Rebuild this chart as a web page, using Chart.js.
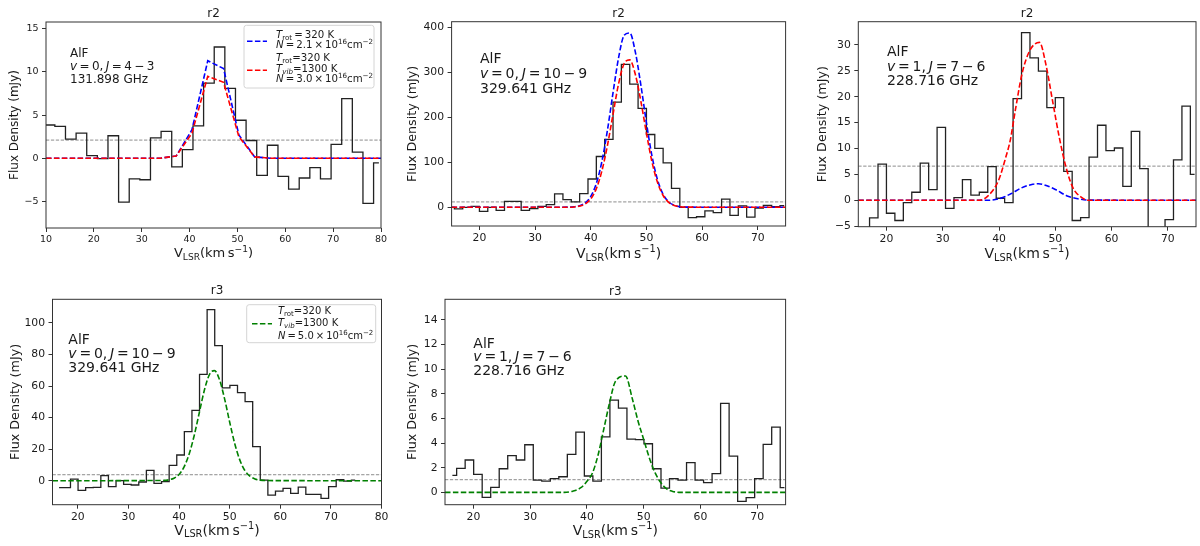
<!DOCTYPE html>
<html>
<head>
<meta charset="utf-8">
<title>AlF spectra r2 / r3</title>
<script src="https://cdn.jsdelivr.net/npm/chart.js@4.4.1/dist/chart.umd.min.js"></script>
<style>
  html, body { margin: 0; padding: 0; background: #fff; }
  body { position: relative; width: 1200px; height: 546px; overflow: hidden; }
  canvas { position: absolute; }
</style>
</head>
<body>
<canvas id="p1" width="400" height="273" style="left:0px;top:0px"></canvas>
<canvas id="p2" width="400" height="273" style="left:400px;top:0px"></canvas>
<canvas id="p3" width="400" height="273" style="left:800px;top:0px"></canvas>
<canvas id="p4" width="400" height="273" style="left:0px;top:273px"></canvas>
<canvas id="p5" width="400" height="273" style="left:400px;top:273px"></canvas>
<script>
// ---- r2, AlF v=0 J=4-3 (131.898 GHz) ----
const p1Vel = [8.52, 10.74, 12.96, 15.18, 17.40, 19.62, 21.84, 24.06, 26.28, 28.50, 30.72, 32.94, 35.16, 37.38, 39.60, 41.82,
  44.04, 46.26, 48.48, 50.70, 52.92, 55.14, 57.36, 59.58, 61.80, 64.02, 66.24, 68.46, 70.68, 72.90, 75.12, 77.34, 79.56];
const p1Flux = [3.85, 3.85, 3.7, 2.2, 2.9, 0.3, -0.05, 2.6, -5.1, -2.4, -2.5, 2.35, 3.1, -1.0, 1.0, 3.75,
  8.7, 12.9, 8.1, 4.4, 2.05, -2.0, 1.5, -2.1, -3.6, -2.3, -1.1, -2.4, 1.6, 6.9, 0.7, -5.25, -0.55];
const p1ModelVel = [10, 33.9, 37.2, 40.5, 43.8, 47.1, 50.3, 53.6, 56.9, 80];
const p1Blue = [0, 0, 0.25, 3.3, 11.3, 10.4, 2.7, 0.15, 0, 0];
const p1Red = [0, 0, 0.25, 2.9, 9.5, 8.8, 2.5, 0.15, 0, 0];
const p1Rms = 2.1;
const p1XTicks = [10, 20, 30, 40, 50, 60, 70, 80];
const p1YTicks = [-5, 0, 5, 10, 15];

// ---- r2, AlF v=0 J=10-9 (329.641 GHz) ----
const p2Vel = [14.75, 16.25, 17.75, 19.25, 20.75, 22.25, 23.75, 25.25, 26.75, 28.25, 29.75, 31.25, 32.75, 34.25,
  35.75, 37.25, 38.75, 40.25, 41.75, 43.25, 44.75, 46.25, 47.75, 49.25, 50.75, 52.25, 53.75, 55.25, 56.75, 58.25,
  59.75, 61.25, 62.75, 64.25, 65.75, 67.25, 68.75, 70.25, 71.75, 73.25, 74.75];
const p2Flux = [0, -3.7, 0, 2.2, -8.9, 0, -6.7, 13.4, 13.4, -6.7, -2.9, 2.2, 6, 29.7,
  17.1, 11.9, 30.4, 63, 113, 151, 234, 318, 274, 220, 162, 131, 99, 42, 0, -23,
  -21, -8, -12, 18, -18, 3, -22, -2, 4.5, 1.5, 3.7];
const p2ModelVel = [15, 36, 37, 38, 39, 40, 41, 42, 43, 44, 45, 46, 47, 48, 49, 50, 51, 52, 53, 54, 55, 56, 57, 75];
const p2Blue = [0, 0.3, 1.1, 3.5, 9.9, 24.3, 53, 102, 172, 255, 333, 383, 388, 346, 272, 188, 114, 61, 28.8, 12, 4.4, 1.4, 0.4, 0];
const p2Red = [0, 0.2, 0.8, 2.7, 7.5, 18.9, 41.6, 81, 138, 207, 275, 320, 328, 296, 236, 165, 101, 55, 26.3, 11.1, 4.1, 1.3, 0.4, 0];
const p2Rms = 12;
const p2XTicks = [20, 30, 40, 50, 60, 70];
const p2YTicks = [0, 100, 200, 300, 400];

// ---- r2, AlF v=1 J=7-6 (228.716 GHz) ----
const p3Vel = [16.25, 17.75, 19.25, 20.75, 22.25, 23.75, 25.25, 26.75, 28.25, 29.75, 31.25, 32.75, 34.25, 35.75,
  37.25, 38.75, 40.25, 41.75, 43.25, 44.75, 46.25, 47.75, 49.25, 50.75, 52.25, 53.75, 55.25, 56.75, 58.25, 59.75,
  61.25, 62.75, 64.25, 65.75, 67.25, 68.75, 70.25, 71.75, 73.25, 74.75];
const p3Flux = [-8, -3.4, 7.0, -2.5, -3.9, -0.45, 1.55, 7.2, 2.05, 14.1, -1.55, 0.5, 4.0, 1.0,
  1.55, 6.5, 0.4, -0.45, 19.65, 32.4, 27.5, 24.95, 17.9, 19.85, 5.6, -3.9, -3.35, 8.35, 14.5, 9.6,
  10.1, 2.7, 13.3, 6.1, -8, -8, -3.75, 7.8, 18.2, 5.0];
const p3RedVel = [15, 36.5, 38, 39.9, 41.2, 42.0, 42.9, 44.1, 45.5, 47.2, 48.3, 49.5, 50.7, 51.9, 53.1, 54.6, 56, 75];
const p3Red = [0, 0, 0.8, 3.8, 8.3, 11.6, 17.4, 24.5, 29, 30.5, 26.4, 19.3, 12.2, 6.4, 2.5, 0.6, 0, 0];
const p3BlueVel = [15, 38, 40, 42, 44, 46, 47, 48, 50, 52, 54, 56, 75];
const p3Blue = [0, 0, 0.3, 1.2, 2.4, 3.1, 3.2, 3.0, 2.1, 0.9, 0.3, 0.05, 0];
const p3Rms = 6.6;
const p3XTicks = [20, 30, 40, 50, 60, 70];
const p3YTicks = [-5, 0, 5, 10, 15, 20, 25, 30];

// ---- r3, AlF v=0 J=10-9 (329.641 GHz) ----
const p4Vel = [16.3, 17.8, 19.3, 20.8, 22.3, 23.8, 25.3, 26.8, 28.3, 29.8, 31.3, 32.8, 34.3, 35.8,
  37.3, 38.8, 40.3, 41.8, 43.3, 44.8, 46.3, 47.8, 49.3, 50.8, 52.3, 53.8, 55.3, 56.8, 58.3, 59.8,
  61.3, 62.8, 64.3, 65.8, 67.3, 68.8, 70.3, 71.8, 73.3, 74.8];
const p4Flux = [-4.4, -4.4, 1.0, -6.1, -4.4, -4.2, 3.2, -3.8, 0, -2.3, -2.7, -0.8, 6.6, -1.7,
  -0.6, 9.7, 16.3, 31.1, 44.6, 67.4, 108.5, 85.6, 58.8, 60.5, 55.8, 50.1, 21.6, 0.4, -9.1, -6.6,
  -4.9, -8.0, -4.0, -8.7, -8.7, -11.2, -3.8, 0.6, -0.2, 0.4];
const p4ModelVel = [15, 37, 38, 39, 40, 41, 42, 43, 44, 45, 46, 47, 48, 49, 50, 51, 52, 53, 54, 55, 56, 57, 80];
const p4Green = [0, 0.19, 0.6, 1.6, 4.0, 8.8, 16.9, 28.7, 43.1, 57.3, 67.3, 69.8, 64, 51.9, 37.2, 23.6, 13.2, 6.5, 2.9, 1.1, 0.4, 0.1, 0];
const p4Rms = 3.8;
const p4XTicks = [20, 30, 40, 50, 60, 70, 80];
const p4YTicks = [0, 20, 40, 60, 80, 100];

// ---- r3, AlF v=1 J=7-6 (228.716 GHz) ----
const p5Vel = [16.3, 17.8, 19.3, 20.8, 22.3, 23.8, 25.3, 26.8, 28.3, 29.8, 31.3, 32.8, 34.3, 35.8,
  37.3, 38.8, 40.3, 41.8, 43.3, 44.8, 46.3, 47.8, 49.3, 50.8, 52.3, 53.8, 55.3, 56.8, 58.3, 59.8,
  61.3, 62.8, 64.3, 65.8, 67.3, 68.8, 70.3, 71.8, 73.3, 74.8];
const p5Flux = [1.38, 1.95, 2.63, 1.46, -0.41, 0.41, 1.92, 2.98, 2.63, 3.87, 1.0, 0.92, 1.11, 1.27,
  3.09, 4.9, 1.33, 0.92, 4.5, 7.5, 6.85, 4.33, 4.28, 3.95, 1.92, 0.35, 1.11, 1.0, 2.41, 1.0,
  0.79, 1.52, 7.23, 2.95, -0.73, -0.43, 1.11, 3.9, 5.3, 0.38];
const p5ModelVel = [15, 36, 37.5, 39, 40, 41, 42, 43, 44, 45, 46.8, 48, 49, 50, 51, 52, 53, 54, 55, 56.5, 75];
const p5Green = [0, 0, 0.1, 0.4, 0.9, 1.6, 3.1, 5.2, 7.3, 9.0, 9.45, 7.6, 5.8, 4.3, 2.8, 1.6, 0.8, 0.3, 0.1, 0, 0];
const p5Rms = 1.03;
const p5XTicks = [20, 30, 40, 50, 60, 70];
const p5YTicks = [0, 2, 4, 6, 8, 10, 12, 14];

// ---- drawing helpers ----
const FAMILY = '"DejaVu Sans", "Liberation Sans", sans-serif';
const INK = '#1a1a1a';
const MODEL_DASH = [5.5, 2.4];
const BLUE = '#0000ff', RED = '#ff0000', GREEN = '#008000';

function setFont(ctx, size, italic) {
  ctx.font = (italic ? 'italic ' : '') + size + 'px ' + FAMILY;
}

// parts: [text, flags] with flags i=italic, b=subscript, p=superscript
function drawRich(ctx, x, y, parts, size, align) {
  const sizeOf = f => (f.includes('b') || f.includes('p')) ? size * 0.7 : size;
  let w = 0;
  parts.forEach(([t, f = '']) => { setFont(ctx, sizeOf(f), f.includes('i')); w += ctx.measureText(t).width; });
  let cx = align === 'center' ? x - w / 2 : x;
  ctx.textAlign = 'left';
  ctx.textBaseline = 'alphabetic';
  parts.forEach(([t, f = '']) => {
    setFont(ctx, sizeOf(f), f.includes('i'));
    const dy = f.includes('b') ? size * 0.2 : f.includes('p') ? -size * 0.4 : 0;
    ctx.fillText(t, cx, y + dy);
    cx += ctx.measureText(t).width;
  });
}

const XLABEL = [['V'], ['LSR', 'b'], ['(km\u2009s'], ['\u22121', 'p'], [')']];
const EQ = '\u2009=\u2009';

function noteLines(v, j, freq) {
  return [[['AlF']], [['v', 'i'], [EQ + v + ',\u2009'], ['J', 'i'], [EQ + j]], [[freq]]];
}

function drawLegend(ctx, lg, ox, oy) {
  const [x0, y0, x1, y1] = lg.box;
  ctx.save();
  ctx.beginPath();
  if (ctx.roundRect) ctx.roundRect(x0 - ox, y0 - oy, x1 - x0, y1 - y0, 2.5);
  else ctx.rect(x0 - ox, y0 - oy, x1 - x0, y1 - y0);
  ctx.fillStyle = 'rgba(255,255,255,0.85)';
  ctx.fill();
  ctx.strokeStyle = '#d4d4d4';
  ctx.lineWidth = 1;
  ctx.stroke();
  lg.entries.forEach(e => {
    ctx.beginPath();
    ctx.setLineDash(MODEL_DASH);
    ctx.strokeStyle = e.color;
    ctx.lineWidth = 1.6;
    ctx.moveTo(lg.lineX[0] - ox, e.lineY - oy);
    ctx.lineTo(lg.lineX[1] - ox, e.lineY - oy);
    ctx.stroke();
    ctx.setLineDash([]);
    ctx.fillStyle = INK;
    e.lines.forEach(([ly, parts]) => drawRich(ctx, lg.textX - ox, ly - oy, parts, lg.size));
  });
  ctx.restore();
}

function decorations(p) {
  return {
    id: 'deco',
    afterDraw(chart) {
      const ctx = chart.ctx, a = chart.chartArea;
      const ox = p.box[0], oy = p.box[1];
      const mid = (a.left + a.right) / 2;
      ctx.save();
      ctx.strokeStyle = '#333';
      ctx.lineWidth = 1;
      ctx.strokeRect(a.left, a.top, a.right - a.left, a.bottom - a.top);
      ctx.fillStyle = INK;
      drawRich(ctx, mid, p.titleY - oy, [[p.title]], 12, 'center');
      drawRich(ctx, mid, p.xlabY - oy, XLABEL, p.xlabSize, 'center');
      ctx.save();
      ctx.translate(p.ylabX - ox, (a.top + a.bottom) / 2);
      ctx.rotate(-Math.PI / 2);
      drawRich(ctx, 0, p.ylabSize * 0.36, [['Flux Density (mJy)']], p.ylabSize, 'center');
      ctx.restore();
      p.note.lines.forEach((parts, i) => drawRich(ctx, p.note.x - ox, p.note.ys[i] - oy, parts, p.note.size));
      if (p.legend) drawLegend(ctx, p.legend, ox, oy);
      ctx.restore();
    }
  };
}

const pts = (xs, ys) => xs.map((x, i) => ({ x: x, y: ys[i] }));
const histo = (xs, ys) => ({ data: pts(xs, ys), borderColor: '#222', borderWidth: 1.3, stepped: 'middle', pointRadius: 0, order: 3 });
const model = (xs, ys, color, smooth, order) => ({
  data: pts(xs, ys), borderColor: color, borderWidth: 1.6, borderDash: MODEL_DASH, pointRadius: 0,
  cubicInterpolationMode: smooth ? 'monotone' : 'default', tension: 0, order: order
});
const rmsLine = (x0, x1, v) => ({ data: [{ x: x0, y: v }, { x: x1, y: v }], borderColor: '#8c8c8c', borderWidth: 1, borderDash: [3.3, 1.6], pointRadius: 0, order: 4 });

const fmtTick = v => (v < 0 ? '\u2212' + Math.abs(v) : String(v));

function axis(min, max, ticks, size, pad, fit) {
  return {
    type: 'linear', min: min, max: max,
    afterBuildTicks: s => { s.ticks = ticks.map(v => ({ value: v })); },
    afterFit: fit,
    ticks: { autoSkip: false, maxRotation: 0, color: INK, padding: pad, font: { family: FAMILY, size: size }, callback: fmtTick },
    grid: { display: true, drawOnChartArea: false, drawTicks: true, tickLength: 4, tickColor: '#333', color: '#333', lineWidth: 1 },
    border: { display: false }
  };
}

function panel(p) {
  const [bx, by, bw, bh] = p.box;
  const [pl, pt, pr, pb] = p.plot;
  new Chart(document.getElementById(p.id), {
    type: 'line',
    data: { datasets: p.datasets },
    options: {
      responsive: false,
      animation: false,
      layout: { padding: { left: 0, top: pt - by, right: bx + bw - pr, bottom: 0 } },
      plugins: { legend: { display: false }, tooltip: { enabled: false } },
      scales: {
        x: axis(p.xr[0], p.xr[1], p.xt, p.tick, 2, s => { s.height = by + bh - pb; }),
        y: axis(p.yr[0], p.yr[1], p.yt, p.tick, 3.5, s => { s.width = pl - bx; })
      }
    },
    plugins: [decorations(p)]
  });
}

// ---- panels ----
panel({
  id: 'p1', box: [0, 0, 400, 273], plot: [46, 22, 381, 228], xr: [10, 80], yr: [-8.1, 15.8],
  xt: p1XTicks, yt: p1YTicks, tick: 9.5,
  title: 'r2', titleY: 16.7, xlabY: 257, xlabSize: 13, ylabX: 13.5, ylabSize: 12,
  note: { x: 70, ys: [57, 70, 82.5], size: 12, lines: noteLines('0', '4\u2009\u2212\u20093', '131.898 GHz') },
  legend: {
    box: [244, 25.3, 374, 88], lineX: [247, 267], textX: 276, size: 10.2,
    entries: [
      { color: BLUE, lineY: 41.3, lines: [
        [37.7, [['T', 'i'], ['rot', 'b'], [EQ + '320 K']]],
        [48.3, [['N', 'i'], [EQ + '2.1\u2009\u00d7\u200910'], ['16', 'p'], ['cm'], ['\u22122', 'p']]]] },
      { color: RED, lineY: 70.3, lines: [
        [61, [['T', 'i'], ['rot', 'b'], ['=320 K']]],
        [71.7, [['T', 'i'], ['vib', 'bi'], ['=1300 K']]],
        [82.3, [['N', 'i'], [EQ + '3.0\u2009\u00d7\u200910'], ['16', 'p'], ['cm'], ['\u22122', 'p']]]] }
    ]
  },
  datasets: [
    model(p1ModelVel, p1Red, RED, false, 0),
    model(p1ModelVel, p1Blue, BLUE, false, 1),
    histo(p1Vel, p1Flux),
    rmsLine(10, 80, p1Rms)
  ]
});

panel({
  id: 'p2', box: [400, 0, 400, 273], plot: [451.6, 21.7, 785.6, 226], xr: [15, 75], yr: [-41.6, 413],
  xt: p2XTicks, yt: p2YTicks, tick: 10.8,
  title: 'r2', titleY: 16.7, xlabY: 258, xlabSize: 14, ylabX: 411.7, ylabSize: 12.7,
  note: { x: 480, ys: [62.7, 77.5, 92.5], size: 14, lines: noteLines('0', '10\u2009\u2212\u20099', '329.641 GHz') },
  datasets: [
    model(p2ModelVel, p2Red, RED, true, 0),
    model(p2ModelVel, p2Blue, BLUE, true, 1),
    histo(p2Vel, p2Flux),
    rmsLine(15, 75, p2Rms)
  ]
});

panel({
  id: 'p3', box: [800, 0, 400, 273], plot: [858.3, 21.7, 1196, 226.7], xr: [15, 75], yr: [-5.1, 34.5],
  xt: p3XTicks, yt: p3YTicks, tick: 10.8,
  title: 'r2', titleY: 16.7, xlabY: 258, xlabSize: 14, ylabX: 821.7, ylabSize: 12.7,
  note: { x: 887, ys: [55.7, 70.5, 85], size: 14, lines: noteLines('1', '7\u2009\u2212\u20096', '228.716 GHz') },
  datasets: [
    model(p3RedVel, p3Red, RED, true, 0),
    model(p3BlueVel, p3Blue, BLUE, true, 1),
    histo(p3Vel, p3Flux),
    rmsLine(15, 75, p3Rms)
  ]
});

panel({
  id: 'p4', box: [0, 273, 400, 273], plot: [52.5, 299.3, 381.5, 504.7], xr: [15, 80], yr: [-15.2, 115],
  xt: p4XTicks, yt: p4YTicks, tick: 10.8,
  title: 'r3', titleY: 294.3, xlabY: 534.5, xlabSize: 14, ylabX: 14, ylabSize: 12.7,
  note: { x: 68.3, ys: [343.5, 358, 372], size: 14, lines: noteLines('0', '10\u2009\u2212\u20099', '329.641 GHz') },
  legend: {
    box: [246.7, 304.7, 375.7, 342.7], lineX: [252, 272], textX: 278, size: 10,
    entries: [
      { color: GREEN, lineY: 323.7, lines: [
        [314, [['T', 'i'], ['rot', 'b'], ['=320 K']]],
        [326, [['T', 'i'], ['vib', 'bi'], ['=1300 K']]],
        [338.5, [['N', 'i'], [EQ + '5.0\u2009\u00d7\u200910'], ['16', 'p'], ['cm'], ['\u22122', 'p']]]] }
    ]
  },
  datasets: [
    model(p4ModelVel, p4Green, GREEN, true, 0),
    histo(p4Vel, p4Flux),
    rmsLine(15, 80, p4Rms)
  ]
});

panel({
  id: 'p5', box: [400, 273, 400, 273], plot: [445, 299.3, 785.6, 504.7], xr: [15, 75], yr: [-1.0, 15.68],
  xt: p5XTicks, yt: p5YTicks, tick: 10.8,
  title: 'r3', titleY: 294.5, xlabY: 535, xlabSize: 14, ylabX: 411, ylabSize: 12.7,
  note: { x: 473.3, ys: [347.7, 361, 374.5], size: 14, lines: noteLines('1', '7\u2009\u2212\u20096', '228.716 GHz') },
  datasets: [
    model(p5ModelVel, p5Green, GREEN, true, 0),
    histo(p5Vel, p5Flux),
    rmsLine(15, 75, p5Rms)
  ]
});
</script>
</body>
</html>
